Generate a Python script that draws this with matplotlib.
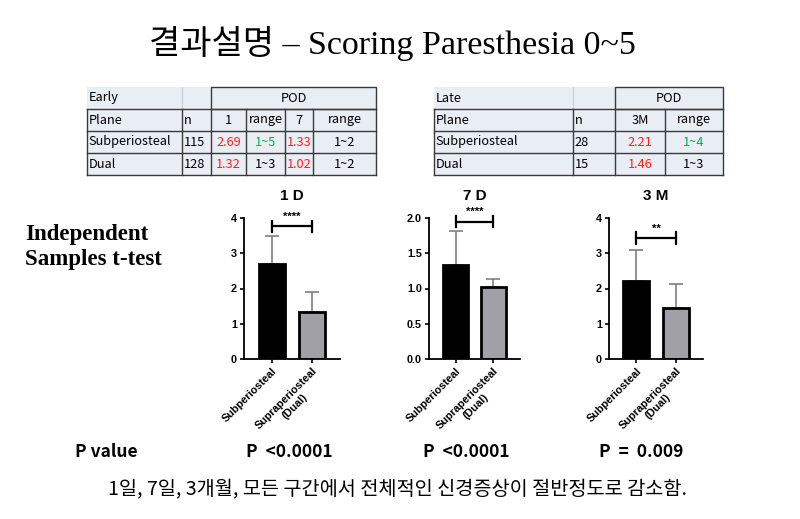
import numpy as np
import matplotlib.pyplot as plt
from matplotlib.patches import Rectangle

plt.rcParams['font.family'] = ['Liberation Sans', 'Noto Sans CJK KR', 'DejaVu Sans']

# ---- table data
early_header = ['Plane', 'n', '1', 'range', '7', 'range']
early_rows = [['Subperiosteal', '115', '2.69', '1~5', '1.33', '1~2'],
              ['Dual', '128', '1.32', '1~3', '1.02', '1~2']]
early_colors = [['k', 'k', 'r', 'g', 'r', 'k'],
                ['k', 'k', 'r', 'k', 'r', 'k']]
late_header = ['Plane', 'n', '3M', 'range']
late_rows = [['Subperiosteal', '28', '2.21', '1~4'],
             ['Dual', '15', '1.46', '1~3']]
late_colors = [['k', 'k', 'r', 'g'],
               ['k', 'k', 'r', 'k']]

# ---- chart data
groups = ['Subperiosteal', 'Supraperiosteal\n(Dual)']
titles = ['1 D', '7 D', '3 M']
means = [[2.69, 1.32], [1.33, 1.02], [2.21, 1.46]]
sds = [[0.79, 0.57], [0.48, 0.12], [0.88, 0.66]]
ymax = [4, 2, 4]
ystep = [1, 0.5, 1]
stars = ['****', '****', '**']
p_text = ['P  <0.0001', 'P  <0.0001', 'P  =  0.009']

col_map = {'k': 'black', 'r': '#ff1f1f', 'g': '#00b050'}

fig = plt.figure(figsize=(8, 5.19), dpi=100)
ax0 = fig.add_axes([0, 0, 1, 1])
ax0.set_xlim(0, 800)
ax0.set_ylim(519, 0)
ax0.axis('off')

# title
ax0.text(392, 43, '결과설명 – Scoring Paresthesia 0~5', ha='center', va='center',
         fontsize=24.5, family=['Liberation Serif', 'Noto Sans CJK KR'])


def draw_table(xs, ys, label, header, rows, colors):
    bg = '#e9edf4'
    line = '#3a3a3a'
    fs = 9.2
    ax0.add_patch(Rectangle((xs[0], ys[0]), xs[-1] - xs[0], ys[-1] - ys[0],
                            facecolor=bg, edgecolor='none'))
    # top row: label cell + POD spanning cell
    ax0.plot([xs[1], xs[1]], [ys[0], ys[1]], color='#c8ccd4', lw=0.8)
    ax0.add_patch(Rectangle((xs[2], ys[0]), xs[-1] - xs[2], ys[1] - ys[0],
                            facecolor='none', edgecolor=line, lw=1))
    ax0.text(xs[0] + 2, (ys[0] + ys[1]) / 2, label, ha='left', va='center',
             fontsize=fs, family=['Noto Sans CJK KR'])
    ax0.text((xs[2] + xs[-1]) / 2, (ys[0] + ys[1]) / 2, 'POD', ha='center', va='center',
             fontsize=fs, family=['Noto Sans CJK KR'])
    # grid for lower rows
    for y in ys[1:]:
        ax0.plot([xs[0], xs[-1]], [y, y], color=line, lw=1)
    for x in xs:
        ax0.plot([x, x], [ys[1], ys[-1]], color=line, lw=1)
    all_rows = [header] + rows
    all_cols = [['k'] * len(header)] + colors
    for i, (r, c) in enumerate(zip(all_rows, all_cols)):
        yc = (ys[i + 1] + ys[i + 2]) / 2
        for j, (txt, cc) in enumerate(zip(r, c)):
            if j < 2:
                ax0.text(xs[j] + 1.5, yc, txt, ha='left', va='center', fontsize=fs,
                         color=col_map[cc], family=['Noto Sans CJK KR'])
            else:
                ax0.text((xs[j] + xs[j + 1]) / 2, yc, txt, ha='center', va='center',
                         fontsize=fs, color=col_map[cc], family=['Noto Sans CJK KR'])


row_y = [87, 109, 131, 153, 175]
draw_table([87, 182, 211, 246, 285, 313, 376], row_y, 'Early', early_header, early_rows, early_colors)
draw_table([434, 573, 615, 665, 723], row_y, 'Late', late_header, late_rows, late_colors)

# left label
ax0.text(25, 247, 'Independent\nSamples t-test', ha='left', va='center', fontsize=16.5,
         fontweight='bold', family=['Liberation Serif'], linespacing=1.2)

# p values
ax0.text(75, 452, 'P value', ha='left', va='center', fontsize=12.5, fontweight='bold',
         family=['Noto Sans CJK KR'])
for xc, t in zip([289, 466, 641], p_text):
    ax0.text(xc, 452, t, ha='center', va='center', fontsize=12.5, fontweight='bold',
             family=['Noto Sans CJK KR'])

ax0.text(397, 490, '1일, 7일, 3개월, 모든 구간에서 전체적인 신경증상이 절반정도로 감소함.',
         ha='center', va='center', fontsize=14.2, family=['Noto Sans CJK KR'])

# ---- bar charts
lefts = [244, 429, 609]
rights = [340, 520, 703]
for k in range(3):
    ax = fig.add_axes([lefts[k] / 800, 1 - 359 / 519, (rights[k] - lefts[k]) / 800, 141 / 519])
    x = np.arange(2)
    ax.bar(x, means[k], width=0.66, color=['black', '#a0a0a6'], edgecolor='black',
           linewidth=2, zorder=2)
    ax.errorbar(x, means[k], yerr=[[0, 0], sds[k]], fmt='none', ecolor='#808080',
                elinewidth=1.2, capsize=5, capthick=1.2, zorder=1)
    ax.set_ylim(0, ymax[k])
    ax.set_xlim(-0.7, 1.7)
    ticks = np.arange(0, ymax[k] + 1e-9, ystep[k])
    ax.set_yticks(ticks)
    if ystep[k] < 1:
        ax.set_yticklabels([f'{t:.1f}' for t in ticks])
    else:
        ax.set_yticklabels([f'{t:.0f}' for t in ticks])
    ax.set_xticks(x)
    ax.set_xticklabels(groups, rotation=45, ha='right', rotation_mode='anchor',
                       fontsize=7.8, fontweight='bold', multialignment='center')
    for lab in ax.get_yticklabels():
        lab.set_fontweight('bold')
        lab.set_fontsize(7.8)
    ax.tick_params(length=3, width=1.2, pad=2)
    for s in ['top', 'right']:
        ax.spines[s].set_visible(False)
    for s in ['left', 'bottom']:
        ax.spines[s].set_linewidth(1.3)
    ax.set_title(titles[k], fontsize=11, fontweight='bold', pad=13)
    # significance bracket
    by = max(m + s for m, s in zip(means[k], sds[k])) + 0.07 * ymax[k]
    if k == 2:
        by = 3.43
    h = 0.04 * ymax[k]
    ax.plot([0, 1], [by, by], color='black', lw=1.6, clip_on=False)
    ax.plot([0, 0], [by - h, by + h], color='black', lw=1.6, clip_on=False)
    ax.plot([1, 1], [by - h, by + h], color='black', lw=1.6, clip_on=False)
    ax.text(0.5, by + 0.03 * ymax[k], stars[k], ha='center', va='bottom', fontsize=8,
            fontweight='bold', clip_on=False)

fig.savefig('out.png', dpi=100)
